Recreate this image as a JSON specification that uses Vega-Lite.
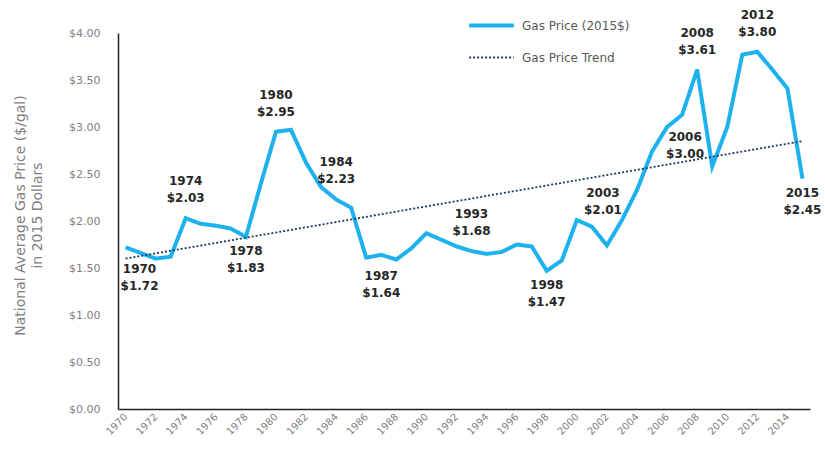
{
  "$schema": "https://vega.github.io/schema/vega-lite/v6.json",
  "width": 692,
  "height": 376,
  "autosize": "none",
  "padding": {"left": 118, "top": 33, "right": 15, "bottom": 45},
  "background": "white",
  "config": {"view": {"stroke": null}, "font": "DejaVu Sans"},
  "data": {
    "values": [
      {"year": 1970, "price": 1.72, "series": "Gas Price (2015$)"},
      {"year": 1971, "price": 1.66, "series": "Gas Price (2015$)"},
      {"year": 1972, "price": 1.60, "series": "Gas Price (2015$)"},
      {"year": 1973, "price": 1.62, "series": "Gas Price (2015$)"},
      {"year": 1974, "price": 2.03, "series": "Gas Price (2015$)"},
      {"year": 1975, "price": 1.97, "series": "Gas Price (2015$)"},
      {"year": 1976, "price": 1.95, "series": "Gas Price (2015$)"},
      {"year": 1977, "price": 1.92, "series": "Gas Price (2015$)"},
      {"year": 1978, "price": 1.83, "series": "Gas Price (2015$)"},
      {"year": 1979, "price": 2.40, "series": "Gas Price (2015$)"},
      {"year": 1980, "price": 2.95, "series": "Gas Price (2015$)"},
      {"year": 1981, "price": 2.97, "series": "Gas Price (2015$)"},
      {"year": 1982, "price": 2.62, "series": "Gas Price (2015$)"},
      {"year": 1983, "price": 2.36, "series": "Gas Price (2015$)"},
      {"year": 1984, "price": 2.23, "series": "Gas Price (2015$)"},
      {"year": 1985, "price": 2.14, "series": "Gas Price (2015$)"},
      {"year": 1986, "price": 1.61, "series": "Gas Price (2015$)"},
      {"year": 1987, "price": 1.64, "series": "Gas Price (2015$)"},
      {"year": 1988, "price": 1.59, "series": "Gas Price (2015$)"},
      {"year": 1989, "price": 1.71, "series": "Gas Price (2015$)"},
      {"year": 1990, "price": 1.87, "series": "Gas Price (2015$)"},
      {"year": 1991, "price": 1.80, "series": "Gas Price (2015$)"},
      {"year": 1992, "price": 1.73, "series": "Gas Price (2015$)"},
      {"year": 1993, "price": 1.68, "series": "Gas Price (2015$)"},
      {"year": 1994, "price": 1.65, "series": "Gas Price (2015$)"},
      {"year": 1995, "price": 1.67, "series": "Gas Price (2015$)"},
      {"year": 1996, "price": 1.75, "series": "Gas Price (2015$)"},
      {"year": 1997, "price": 1.73, "series": "Gas Price (2015$)"},
      {"year": 1998, "price": 1.47, "series": "Gas Price (2015$)"},
      {"year": 1999, "price": 1.58, "series": "Gas Price (2015$)"},
      {"year": 2000, "price": 2.01, "series": "Gas Price (2015$)"},
      {"year": 2001, "price": 1.94, "series": "Gas Price (2015$)"},
      {"year": 2002, "price": 1.74, "series": "Gas Price (2015$)"},
      {"year": 2003, "price": 2.01, "series": "Gas Price (2015$)"},
      {"year": 2004, "price": 2.33, "series": "Gas Price (2015$)"},
      {"year": 2005, "price": 2.74, "series": "Gas Price (2015$)"},
      {"year": 2006, "price": 3.00, "series": "Gas Price (2015$)"},
      {"year": 2007, "price": 3.13, "series": "Gas Price (2015$)"},
      {"year": 2008, "price": 3.61, "series": "Gas Price (2015$)"},
      {"year": 2009, "price": 2.58, "series": "Gas Price (2015$)"},
      {"year": 2010, "price": 3.00, "series": "Gas Price (2015$)"},
      {"year": 2011, "price": 3.77, "series": "Gas Price (2015$)"},
      {"year": 2012, "price": 3.80, "series": "Gas Price (2015$)"},
      {"year": 2013, "price": 3.61, "series": "Gas Price (2015$)"},
      {"year": 2014, "price": 3.41, "series": "Gas Price (2015$)"},
      {"year": 2015, "price": 2.45, "series": "Gas Price (2015$)"},
      {"year": 1970, "price": 1.60, "series": "Gas Price Trend"},
      {"year": 2015, "price": 2.85, "series": "Gas Price Trend"}
    ]
  },
  "encoding": {
    "x": {
      "field": "year",
      "type": "quantitative",
      "scale": {"domain": [1969.5, 2015.5], "nice": false, "zero": false},
      "axis": {
        "title": null,
        "values": [1970, 1972, 1974, 1976, 1978, 1980, 1982, 1984, 1986, 1988, 1990, 1992, 1994, 1996, 1998, 2000, 2002, 2004, 2006, 2008, 2010, 2012, 2014],
        "format": "d",
        "labelAngle": -45,
        "labelAlign": "right",
        "labelBaseline": "middle",
        "labelFontSize": 10,
        "labelColor": "#7f7f7f",
        "labelPadding": 6,
        "labelOverlap": false,
        "labelFlush": false,
        "ticks": false,
        "grid": false,
        "domainColor": "#222222",
        "domainWidth": 1.5
      }
    },
    "y": {
      "field": "price",
      "type": "quantitative",
      "scale": {"domain": [0, 4], "nice": false},
      "axis": {
        "title": ["National Average Gas Price ($/gal)", "in 2015 Dollars"],
        "values": [0, 0.5, 1, 1.5, 2, 2.5, 3, 3.5, 4],
        "format": "$.2f",
        "ticks": false,
        "grid": false,
        "labelPadding": 18,
        "labelColor": "#7f7f7f",
        "labelFontSize": 11,
        "domainColor": "#222222",
        "domainWidth": 1.5,
        "titleColor": "#7f7f7f",
        "titleFontSize": 14,
        "titleFontWeight": "normal",
        "titleLineHeight": 17,
        "titleX": -98,
        "titleY": 182,
        "titleAngle": -90,
        "titleAlign": "center",
        "titleBaseline": "middle"
      }
    }
  },
  "layer": [
    {
      "mark": {"type": "line", "strokeJoin": "miter", "strokeCap": "butt"},
      "encoding": {
        "color": {
          "field": "series",
          "type": "nominal",
          "scale": {"domain": ["Gas Price (2015$)", "Gas Price Trend"], "range": ["#1DB2EE", "#1F3864"]},
          "legend": {
            "title": null,
            "orient": "none",
            "legendX": 349,
            "legendY": -32,
            "symbolType": "stroke",
            "symbolSize": 2000,
            "labelFontSize": 12,
            "labelColor": "#595959",
            "labelOffset": 6,
            "rowPadding": -2,
            "encode": {
              "symbols": {
                "update": {
                  "strokeWidth": {"signal": "datum.value === 'Gas Price (2015$)' ? 4 : 1.8"},
                  "strokeDash": {"signal": "datum.value === 'Gas Price (2015$)' ? [1, 0] : [2, 2]"}
                }
              }
            }
          }
        },
        "strokeDash": {
          "field": "series",
          "type": "nominal",
          "scale": {"domain": ["Gas Price (2015$)", "Gas Price Trend"], "range": [[1, 0], [2, 2]]},
          "legend": null
        },
        "strokeWidth": {
          "field": "series",
          "type": "ordinal",
          "scale": {"domain": ["Gas Price (2015$)", "Gas Price Trend"], "range": [4, 1.8]},
          "legend": null
        }
      }
    },
    {
      "transform": [
        {"filter": {"and": [{"field": "series", "equal": "Gas Price (2015$)"}, {"field": "year", "oneOf": [1974, 1980, 1984, 1993, 2008, 2012]}]}},
        {"calculate": "datum.year + '\\n$' + format(datum.price, '.2f')", "as": "label"}
      ],
      "mark": {"type": "text", "lineBreak": "\n", "lineHeight": 17, "fontSize": 12, "fontWeight": "bold", "color": "#262626", "align": "center", "baseline": "bottom", "dy": -30},
      "encoding": {"text": {"field": "label", "type": "nominal"}}
    },
    {
      "transform": [
        {"filter": {"and": [{"field": "series", "equal": "Gas Price (2015$)"}, {"field": "year", "oneOf": [1978, 1998, 2015]}]}},
        {"calculate": "datum.year + '\\n$' + format(datum.price, '.2f')", "as": "label"}
      ],
      "mark": {"type": "text", "lineBreak": "\n", "lineHeight": 17, "fontSize": 12, "fontWeight": "bold", "color": "#262626", "align": "center", "baseline": "top", "dy": 9},
      "encoding": {"text": {"field": "label", "type": "nominal"}}
    },
    {
      "transform": [
        {"filter": {"and": [{"field": "series", "equal": "Gas Price (2015$)"}, {"field": "year", "oneOf": [1987]}]}},
        {"calculate": "datum.year + '\\n$' + format(datum.price, '.2f')", "as": "label"}
      ],
      "mark": {"type": "text", "lineBreak": "\n", "lineHeight": 17, "fontSize": 12, "fontWeight": "bold", "color": "#262626", "align": "center", "baseline": "top", "dy": 16},
      "encoding": {"text": {"field": "label", "type": "nominal"}}
    },
    {
      "transform": [
        {"filter": {"and": [{"field": "series", "equal": "Gas Price (2015$)"}, {"field": "year", "oneOf": [1970]}]}},
        {"calculate": "datum.year + '\\n$' + format(datum.price, '.2f')", "as": "label"}
      ],
      "mark": {"type": "text", "lineBreak": "\n", "lineHeight": 17, "fontSize": 12, "fontWeight": "bold", "color": "#262626", "align": "center", "baseline": "top", "dy": 17, "dx": 14},
      "encoding": {"text": {"field": "label", "type": "nominal"}}
    },
    {
      "transform": [
        {"filter": {"and": [{"field": "series", "equal": "Gas Price (2015$)"}, {"field": "year", "oneOf": [2003]}]}},
        {"calculate": "datum.year + '\\n$' + format(datum.price, '.2f')", "as": "label"}
      ],
      "mark": {"type": "text", "lineBreak": "\n", "lineHeight": 17, "fontSize": 12, "fontWeight": "bold", "color": "#262626", "align": "center", "baseline": "bottom", "dy": -20, "dx": -19},
      "encoding": {"text": {"field": "label", "type": "nominal"}}
    },
    {
      "transform": [
        {"filter": {"and": [{"field": "series", "equal": "Gas Price (2015$)"}, {"field": "year", "oneOf": [2006]}]}},
        {"calculate": "datum.year + '\\n$' + format(datum.price, '.2f')", "as": "label"}
      ],
      "mark": {"type": "text", "lineBreak": "\n", "lineHeight": 17, "fontSize": 12, "fontWeight": "bold", "color": "#262626", "align": "center", "baseline": "top", "dy": 5, "dx": 18},
      "encoding": {"text": {"field": "label", "type": "nominal"}}
    }
  ]
}
